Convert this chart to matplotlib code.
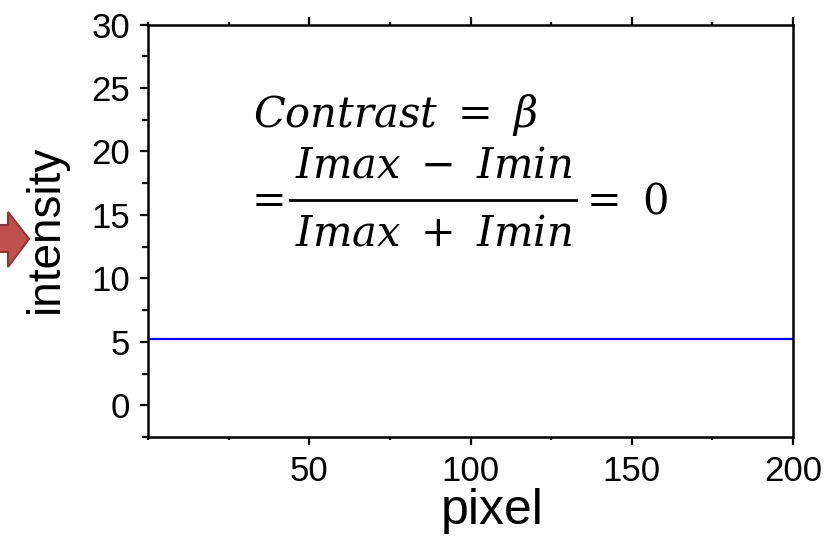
import matplotlib
matplotlib.use("Agg")
import matplotlib.pyplot as plt
from matplotlib.lines import Line2D
from matplotlib.patches import Polygon
from matplotlib.ticker import MultipleLocator

# intensity profile along the line (flat, no contrast)
pixel = [0, 200]
intensity = [5.25, 5.25]

x_ticks = [50, 100, 150, 200]
y_ticks = [0, 5, 10, 15, 20, 25, 30]

plt.rcParams["font.family"] = ["Liberation Sans", "DejaVu Sans"]
plt.rcParams["mathtext.fontset"] = "dejavuserif"

W, H = 833, 536
fig = plt.figure(figsize=(W / 100, H / 100), dpi=100)
ax = fig.add_axes([148 / W, 1 - 437 / H, 645 / W, 412.5 / H])

ax.plot(pixel, intensity, color="#0000ff", lw=1.6)

ax.set_xlim(0, 200)
ax.set_ylim(-2.5, 30)
ax.set_xticks(x_ticks)
ax.set_yticks(y_ticks)
ax.xaxis.set_minor_locator(MultipleLocator(25))
ax.yaxis.set_minor_locator(MultipleLocator(2.5))

for s in ax.spines.values():
    s.set_linewidth(1.8)

ax.tick_params(which="both", direction="out", width=1.6, labelsize=25,
               top=True, right=False, left=True, bottom=True)
ax.tick_params(axis="x", which="major", length=6, pad=7)
ax.tick_params(axis="x", which="minor", length=2.5)
ax.tick_params(axis="y", which="major", length=6, pad=7)
ax.tick_params(axis="y", which="minor", length=4)

ax.set_xlabel("pixel", fontsize=36)
ax.set_ylabel("intensity", fontsize=33)
ax.xaxis.set_label_coords((492 - 148) / 645, -(488 - 437) / 412.5)
ax.xaxis.label.set_va("top")
ax.yaxis.set_label_coords(-(148 - 68) / 645, (437 - 229) / 412.5)


def fx(px):
    return px / W


def fy(py):
    return 1 - py / H


# contrast formula, built piece by piece for a roomy fraction
fs = 30
fig.text(fx(253), fy(127), r"$Contrast\ =\ \beta$", fontsize=fs,
         ha="left", va="baseline")
fig.text(fx(244), fy(212), r"$=$", fontsize=fs, ha="left", va="baseline")
fig.text(fx(433), fy(177), r"$Imax\ -\ Imin$", fontsize=fs,
         ha="center", va="baseline")
fig.add_artist(Line2D([fx(290), fx(576)], [fy(200), fy(200)],
                      color="black", lw=2, transform=fig.transFigure))
fig.text(fx(433), fy(245), r"$Imax\ +\ Imin$", fontsize=fs,
         ha="center", va="baseline")
fig.text(fx(579), fy(213), r"$=\ 0$", fontsize=fs, ha="left", va="baseline")

# red block arrow pointing at the axis label
pts = [(-5, 225), (8, 225), (8, 212), (29, 239), (8, 267), (8, 252), (-5, 252)]
arrow = Polygon([(fx(px), fy(py)) for px, py in pts], closed=True,
                transform=fig.transFigure, facecolor="#c0504d",
                edgecolor="#8c3836", lw=1.5, clip_on=False)
fig.add_artist(arrow)

fig.savefig("out.png", dpi=100)
